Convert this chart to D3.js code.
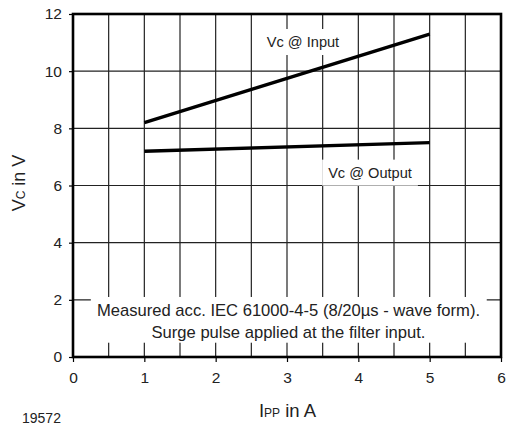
<!DOCTYPE html>
<html><head><meta charset="utf-8">
<script src="https://cdn.jsdelivr.net/npm/d3@7"></script>
<style>body{margin:0;background:#fff;} text{font-family:"Liberation Sans",Arial,sans-serif;fill:#222;}</style>
</head><body>
<svg id="c" width="507" height="430"></svg>
<script>
const xTicks = [0,1,2,3,4,5,6];
const yTicks = [0,2,4,6,8,10,12];
const xGrid = [0.5,1,1.5,2,2.5,3,3.5,4,4.5,5,5.5];
const yGrid = [2,4,6,8,10];
const ippInput = [1,5];
const vcInput = [8.2,11.3];
const ippOutput = [1,5];
const vcOutput = [7.2,7.5];
const labels = [
  {text:"Vc @ Input", x:3.224, y:11.02},
  {text:"Vc @ Output", x:4.164, y:6.45}
];
const note = ["Measured acc. IEC 61000-4-5 (8/20µs - wave form).","Surge pulse applied at the filter input."];

const svg = d3.select("#c");
const x = d3.scaleLinear().domain([0,6]).range([73,501]);
const y = d3.scaleLinear().domain([0,12]).range([357,14]);

// grid
const g = svg.append("g");
g.selectAll(".vg").data(xGrid).enter().append("line")
  .attr("x1",d=>x(d)).attr("x2",d=>x(d)).attr("y1",y(12)).attr("y2",y(0))
  .attr("stroke","#222").attr("stroke-width",1.2);
g.selectAll(".hg").data(yGrid).enter().append("line")
  .attr("x1",x(0)).attr("x2",x(6)).attr("y1",d=>y(d)).attr("y2",d=>y(d))
  .attr("stroke","#222").attr("stroke-width",1.2);

// white boxes behind labels
labels.forEach(l=>{
  const t = svg.append("text").attr("x",x(l.x)).attr("y",y(l.y)).attr("text-anchor","middle")
    .attr("dominant-baseline","central").attr("font-size",14.6).text(l.text);
  const bb = t.node().getBBox();
  svg.insert("rect","text").attr("x",bb.x-6).attr("y",bb.y-5).attr("width",bb.width+12).attr("height",bb.height+10).attr("fill","#fff");
});
// note
const noteG = svg.append("g");
noteG.append("rect").attr("x",x(0.25)).attr("y",y(2.1)).attr("width",x(5.8)-x(0.25)).attr("height",y(0.5)-y(2.1)).attr("fill","#fff");
note.forEach((s,i)=>{
  noteG.append("text").attr("x",288.5).attr("y",310+i*22).attr("text-anchor","middle")
    .attr("dominant-baseline","central").attr("font-size",16.6).text(s);
});

// frame
svg.append("rect").attr("x",x(0)).attr("y",y(12)).attr("width",x(6)-x(0)).attr("height",y(0)-y(12))
  .attr("fill","none").attr("stroke","#000").attr("stroke-width",2.6);

// axes
const ax = d3.axisBottom(x).tickValues(xTicks).tickSize(5).tickPadding(10).tickFormat(d3.format("d"));
const axG = svg.append("g").attr("transform",`translate(0,${y(0)})`).call(ax);
const ay = d3.axisLeft(y).tickValues(yTicks).tickSize(4).tickPadding(7).tickFormat(d3.format("d"));
const ayG = svg.append("g").attr("transform",`translate(${x(0)},0)`).call(ay);
[axG,ayG].forEach(a=>{
  a.select(".domain").remove();
  a.selectAll(".tick line").attr("stroke","#000").attr("stroke-width",1.2);
  a.selectAll(".tick text").attr("font-size",15.5).attr("fill","#222").style("font-family","'Liberation Sans',Arial,sans-serif");
});

// lines
const line = d3.line().x(d=>x(d[0])).y(d=>y(d[1]));
svg.append("path").datum(ippInput.map((v,i)=>[v,vcInput[i]])).attr("d",line)
  .attr("fill","none").attr("stroke","#000").attr("stroke-width",3.4);
svg.append("path").datum(ippOutput.map((v,i)=>[v,vcOutput[i]])).attr("d",line)
  .attr("fill","none").attr("stroke","#000").attr("stroke-width",3.4);

// axis titles
const yt = svg.append("text").attr("transform","translate(25,183) rotate(-90)").attr("text-anchor","middle").attr("font-size",18);
yt.append("tspan").text("V");
yt.append("tspan").attr("font-size",12).text("C");
yt.append("tspan").text(" in V");
const xt = svg.append("text").attr("x",287.5).attr("y",417).attr("text-anchor","middle").attr("font-size",18.5);
xt.append("tspan").text("I");
xt.append("tspan").attr("font-size",12).text("PP");
xt.append("tspan").text(" in A");

svg.append("text").attr("x",22).attr("y",423).attr("font-size",14).text("19572");
</script>
</body></html>
